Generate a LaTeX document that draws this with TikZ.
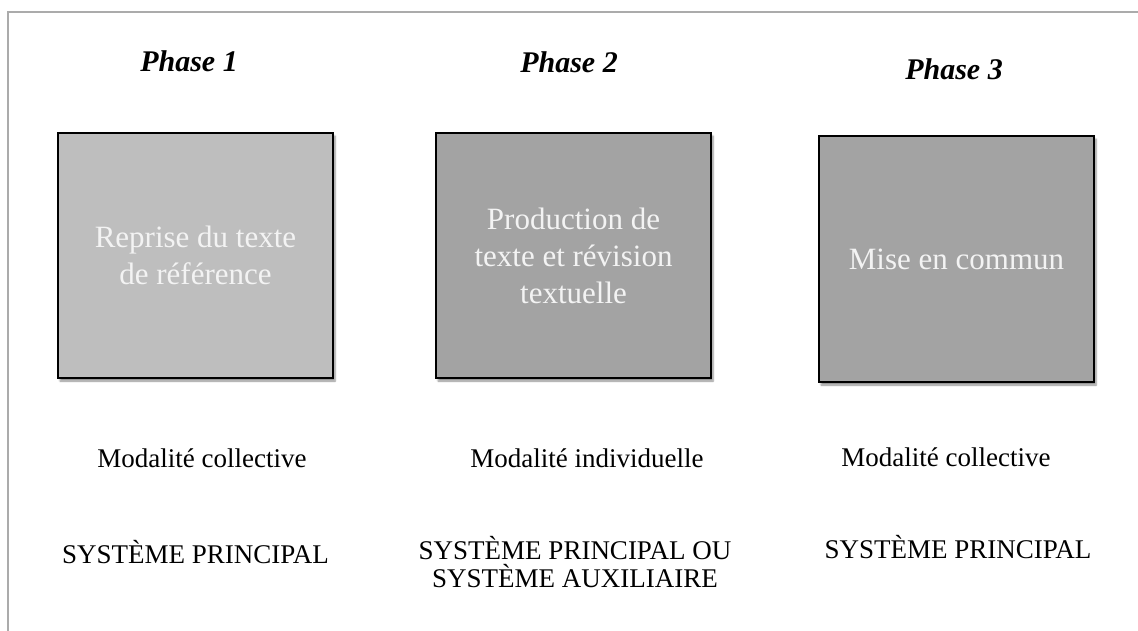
\documentclass[tikz,border=0pt]{standalone}
\usepackage{fontspec}
\setmainfont{Liberation Serif}
\usetikzlibrary{shadows.blur}

\definecolor{framegray}{HTML}{ABABAB}
\definecolor{lightbox}{HTML}{BEBEBE}
\definecolor{darkbox}{HTML}{A3A3A3}
\definecolor{boxtext}{HTML}{F3F3F3}

\tikzset{
  phasetitle/.style={anchor=base, inner sep=0pt,
    font=\fontsize{30}{34}\selectfont\bfseries\itshape},
  phasebox/.style={draw=black, line width=1.4pt, minimum width=275pt,
    inner sep=0pt, text=boxtext, align=center,
    font=\fontsize{31}{37}\selectfont,
    blur shadow={shadow xshift=2pt, shadow yshift=-3pt,
      shadow blur steps=6, shadow opacity=45}},
  modality/.style={anchor=base, inner sep=0pt,
    font=\fontsize{27}{28}\selectfont},
  systemlabel/.style={inner sep=0pt, align=center, anchor=base,
    font=\fontsize{27}{27.5}\selectfont},
}

\begin{document}
\begin{tikzpicture}[x=1pt, y=-1pt]
  \useasboundingbox (0,0) rectangle (1138,631);

  % page frame (top and left edges)
  \draw[framegray, line width=1.5pt] (8,631) -- (8,12) -- (1138,12);

  % phase titles
  \node[phasetitle] (p1) at (189,72) {Phase 1};
  \node[phasetitle] (p2) at (569,73) {Phase 2};
  \node[phasetitle] (p3) at (954,80) {Phase 3};

  % activity boxes
  \node[phasebox, fill=lightbox, minimum height=245pt] (b1) at (195.5,255.5)
    {Reprise du texte\\de référence};
  \node[phasebox, fill=darkbox, minimum height=245pt] (b2) at (573.5,255.5)
    {Production de\\texte et révision\\textuelle};
  \node[phasebox, fill=darkbox, minimum height=246pt] (b3) at (956.5,259)
    {Mise en commun};

  % working modality
  \node[modality] (m1) at (202,467) {Modalité collective};
  \node[modality] (m2) at (587,467) {Modalité individuelle};
  \node[modality] (m3) at (946,466) {Modalité collective};

  % writing system (base anchor = baseline of the last line)
  \node[systemlabel] (s1) at (195.5,563) {SYSTÈME PRINCIPAL};
  \node[systemlabel] (s2) at (575,587)
    {SYSTÈME PRINCIPAL OU\\SYSTÈME AUXILIAIRE};
  \node[systemlabel] (s3) at (958,558) {SYSTÈME PRINCIPAL};
\end{tikzpicture}
\end{document}
